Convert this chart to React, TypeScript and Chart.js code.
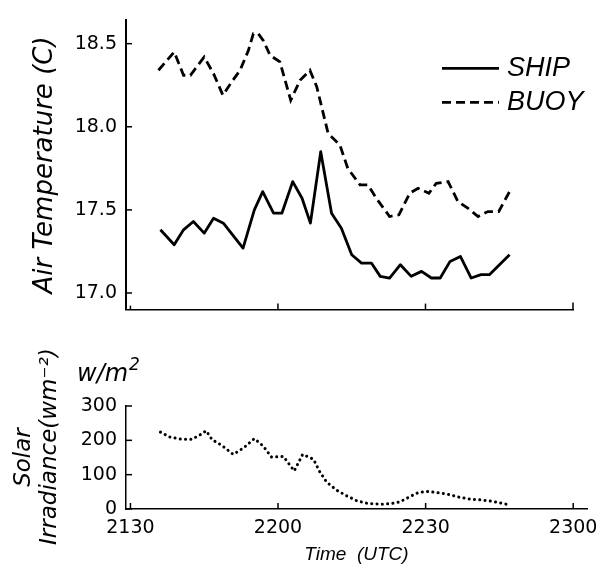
import React, { useEffect, useRef } from 'react';
import { Chart, registerables } from 'chart.js';

Chart.register(...registerables);

// x values are minutes after 21:30 UTC
const xTickValues = [0, 30, 60, 90];
const xTickLabels = ['2130', '2200', '2230', '2300'];
const tempTickValues = [17.0, 17.5, 18.0, 18.5];
const tempTickLabels = ['17.0', '17.5', '18.0', '18.5'];
const solarTickValues = [0, 100, 200, 300];
const solarTickLabels = ['0', '100', '200', '300'];

const shipTime = [6.1, 8.9, 10.8, 12.8, 15.0, 16.9, 18.9, 22.9, 25.2, 26.9, 29.1, 30.8, 33.0, 34.9, 36.6, 38.7, 40.9, 42.9, 45.0, 47.0, 49.0, 50.8, 52.7, 54.9, 57.1, 59.2, 61.2, 63.0, 65.0, 67.1, 69.3, 71.3, 73.0, 77.1];
const shipTemp = [17.38, 17.29, 17.38, 17.43, 17.36, 17.45, 17.42, 17.27, 17.50, 17.61, 17.48, 17.48, 17.67, 17.57, 17.42, 17.85, 17.48, 17.39, 17.23, 17.18, 17.18, 17.10, 17.09, 17.17, 17.10, 17.13, 17.09, 17.09, 17.19, 17.22, 17.09, 17.11, 17.11, 17.23];

const buoyTime = [5.7, 8.9, 10.8, 12.2, 15.0, 16.9, 18.8, 20.6, 22.3, 24.0, 25.0, 26.0, 27.0, 28.4, 30.4, 32.6, 34.5, 36.5, 37.9, 40.2, 42.6, 44.2, 46.7, 48.3, 50.0, 52.7, 54.6, 56.8, 58.5, 60.7, 62.2, 64.6, 66.6, 68.6, 70.7, 72.7, 74.9, 77.1];
const buoyTemp = [18.34, 18.45, 18.31, 18.31, 18.42, 18.32, 18.19, 18.27, 18.34, 18.46, 18.56, 18.56, 18.52, 18.43, 18.39, 18.16, 18.28, 18.34, 18.24, 17.96, 17.89, 17.75, 17.65, 17.65, 17.57, 17.46, 17.47, 17.60, 17.63, 17.60, 17.66, 17.67, 17.55, 17.51, 17.46, 17.49, 17.49, 17.61];

const solarTime = [6.1, 8.1, 10.5, 12.5, 14.5, 15.4, 16.6, 18.6, 20.9, 23.0, 25.2, 27.0, 28.7, 31.1, 33.3, 35.0, 37.2, 38.5, 39.9, 41.9, 44.0, 46.0, 48.3, 51.4, 53.1, 54.8, 56.8, 58.5, 60.5, 62.2, 64.9, 66.6, 69.3, 71.0, 73.7, 76.4];
const solarValue = [224, 209, 203, 203, 219, 228, 202, 185, 159, 178, 205, 183, 151, 153, 111, 159, 145, 108, 78, 55, 38, 24, 16, 14, 16, 21, 36, 48, 51, 48, 42, 35, 28, 27, 22, 14];

const seriesLabels = ['SHIP', 'BUOY'];

const innerTicks = {
  id: 'innerTicks',
  afterDraw(chart: any, _args: any, opts: any) {
    const { ctx, chartArea, scales } = chart;
    ctx.save();
    ctx.strokeStyle = '#000';
    ctx.lineWidth = 1.5;
    scales.x.ticks.forEach((t: any, i: number) => {
      const px = scales.x.getPixelForValue(t.value);
      const len = opts.xLengths[i];
      ctx.beginPath();
      ctx.moveTo(px, chartArea.bottom);
      ctx.lineTo(px, chartArea.bottom - len);
      ctx.stroke();
    });
    scales.y.ticks.forEach((t: any) => {
      const py = scales.y.getPixelForValue(t.value);
      ctx.beginPath();
      ctx.moveTo(chartArea.left, py);
      ctx.lineTo(chartArea.left + opts.yLength, py);
      ctx.stroke();
    });
    ctx.restore();
  },
};

const lineLegend = {
  id: 'lineLegend',
  afterDraw(chart: any, _args: any, opts: any) {
    if (!opts || !opts.enabled) return;
    const { ctx, chartArea } = chart;
    chart.data.datasets.forEach((ds: any, i: number) => {
      const y = chartArea.top + opts.top + i * opts.rowGap;
      const x1 = chartArea.right - opts.lineStart;
      const x2 = chartArea.right - opts.lineEnd;
      ctx.save();
      ctx.strokeStyle = ds.borderColor;
      ctx.lineWidth = ds.borderWidth;
      ctx.setLineDash(ds.borderDash || []);
      ctx.beginPath();
      ctx.moveTo(x1, y);
      ctx.lineTo(x2, y);
      ctx.stroke();
      ctx.setLineDash([]);
      ctx.font = opts.font;
      ctx.fillStyle = '#000';
      ctx.textBaseline = 'middle';
      ctx.textAlign = 'left';
      ctx.fillText(ds.label, x2 + opts.gap, y);
      ctx.restore();
    });
  },
};

const unitLabel = {
  id: 'unitLabel',
  afterDraw(chart: any, _args: any, opts: any) {
    if (!opts || !opts.enabled) return;
    const { ctx, chartArea } = chart;
    ctx.save();
    ctx.fillStyle = '#000';
    ctx.textBaseline = 'alphabetic';
    ctx.textAlign = 'left';
    ctx.font = "italic 24px 'DejaVu Sans'";
    const x = chartArea.left - opts.dx;
    const y = chartArea.top - opts.dy;
    ctx.fillText(opts.text, x, y);
    const w = ctx.measureText(opts.text).width;
    ctx.font = "italic 17px 'DejaVu Sans'";
    ctx.fillText(opts.sup, x + w + 1, y - 11);
    ctx.restore();
  },
};

const tickFont = { family: "'DejaVu Sans'", size: 19 };

function TopChart() {
  const ref = useRef<HTMLCanvasElement>(null);
  useEffect(() => {
    const chart = new Chart(ref.current as HTMLCanvasElement, {
      type: 'line',
      data: {
        datasets: [
          {
            label: seriesLabels[0],
            data: shipTime.map((t, i) => ({ x: t, y: shipTemp[i] })),
            borderColor: '#000',
            borderWidth: 2.8,
            pointRadius: 0,
            tension: 0,
            borderJoinStyle: 'round',
          },
          {
            label: seriesLabels[1],
            data: buoyTime.map((t, i) => ({ x: t, y: buoyTemp[i] })),
            borderColor: '#000',
            borderWidth: 2.8,
            borderDash: [9, 5],
            pointRadius: 0,
            tension: 0,
          },
        ],
      },
      options: {
        responsive: false,
        animation: false,
        devicePixelRatio: 1,
        layout: { padding: { top: 10, right: 34, left: 0, bottom: 0 } },
        plugins: {
          legend: { display: false },
          tooltip: { enabled: false },
          innerTicks: { xLengths: [4, 6, 6, 7], yLength: 6 },
          lineLegend: {
            enabled: true,
            top: 48,
            rowGap: 34,
            lineStart: 131,
            lineEnd: 74,
            gap: 8,
            font: "italic 27px 'Liberation Sans', sans-serif",
          },
        } as any,
        scales: {
          x: {
            type: 'linear',
            min: -0.9,
            max: 90,
            grid: { display: false, drawTicks: false },
            border: { display: true, color: '#000', width: 1.5 },
            ticks: { display: false },
            afterBuildTicks: (s: any) => {
              s.ticks = xTickValues.map((v) => ({ value: v }));
            },
            afterFit: (s: any) => {
              s.height = 17;
            },
          },
          y: {
            type: 'linear',
            min: 16.9,
            max: 18.64,
            grid: { display: false, drawTicks: false },
            border: { display: true, color: '#000', width: 2 },
            ticks: {
              padding: 9,
              color: '#000',
              font: tickFont,
              callback: (_v: any, i: number) => tempTickLabels[i],
            },
            afterBuildTicks: (s: any) => {
              s.ticks = tempTickValues.map((v) => ({ value: v }));
            },
            afterFit: (s: any) => {
              s.width = 126;
            },
            title: {
              display: true,
              text: 'Air Temperature (C)',
              color: '#000',
              font: { family: "'DejaVu Sans'", style: 'italic', size: 26, lineHeight: 1.2 },
              padding: { top: 30, bottom: 0 },
            },
          },
        },
      } as any,
      plugins: [innerTicks, lineLegend],
    });
    return () => chart.destroy();
  }, []);
  return (
    <canvas
      ref={ref}
      width={607}
      height={330}
      style={{ position: 'absolute', left: 0, top: 0, width: 607, height: 330 }}
    />
  );
}

function BottomChart() {
  const ref = useRef<HTMLCanvasElement>(null);
  useEffect(() => {
    const chart = new Chart(ref.current as HTMLCanvasElement, {
      type: 'line',
      data: {
        datasets: [
          {
            label: 'Solar Irradiance',
            data: solarTime.map((t, i) => ({ x: t, y: solarValue[i] })),
            borderColor: '#000',
            borderWidth: 3,
            borderDash: [0.1, 5.2],
            borderCapStyle: 'round',
            pointRadius: 0,
            tension: 0,
          },
        ],
      },
      options: {
        responsive: false,
        animation: false,
        devicePixelRatio: 1,
        layout: { padding: { top: 76, right: 20, left: 0, bottom: 0 } },
        plugins: {
          legend: { display: false },
          tooltip: { enabled: false },
          innerTicks: { xLengths: [6, 6, 6, 6], yLength: 6 },
          unitLabel: { enabled: true, text: 'w/m', sup: '2', dx: 49, dy: 25 },
        } as any,
        scales: {
          x: {
            type: 'linear',
            min: -0.9,
            max: 92.8,
            grid: { display: false, drawTicks: false },
            border: { display: true, color: '#000', width: 1.5 },
            ticks: {
              padding: 8,
              color: '#000',
              font: tickFont,
              maxRotation: 0,
              callback: (_v: any, i: number) => xTickLabels[i],
            },
            afterBuildTicks: (s: any) => {
              s.ticks = xTickValues.map((v) => ({ value: v }));
            },
            afterFit: (s: any) => {
              s.height = 66;
            },
            title: {
              display: true,
              text: 'Time  (UTC)',
              color: '#000',
              font: {
                family: "'Liberation Sans', sans-serif",
                style: 'italic',
                size: 19,
                lineHeight: 1.2,
              },
              padding: { top: 0, bottom: 9 },
            },
          },
          y: {
            type: 'linear',
            min: 0,
            max: 300,
            grid: { display: false, drawTicks: false },
            border: { display: true, color: '#000', width: 1.5 },
            ticks: {
              padding: 9,
              color: '#000',
              font: tickFont,
              callback: (_v: any, i: number) => solarTickLabels[i],
            },
            afterBuildTicks: (s: any) => {
              s.ticks = solarTickValues.map((v) => ({ value: v }));
            },
            afterFit: (s: any) => {
              s.width = 126;
            },
            title: {
              display: true,
              text: ['Solar', '   Irradiance(wm\u207B\u00B2)'],
              color: '#000',
              font: { family: "'DejaVu Sans'", style: 'italic', size: 23, lineHeight: 1.13 },
              padding: { top: 11, bottom: 0 },
            },
          },
        },
      } as any,
      plugins: [innerTicks, unitLabel],
    });
    return () => chart.destroy();
  }, []);
  return (
    <canvas
      ref={ref}
      width={607}
      height={245}
      style={{ position: 'absolute', left: 0, top: 330, width: 607, height: 245 }}
    />
  );
}

export default function App() {
  return (
    <div
      style={{
        position: 'absolute',
        left: 0,
        top: 0,
        width: 607,
        height: 575,
        background: '#fff',
        overflow: 'hidden',
      }}
    >
      <TopChart />
      <BottomChart />
    </div>
  );
}
